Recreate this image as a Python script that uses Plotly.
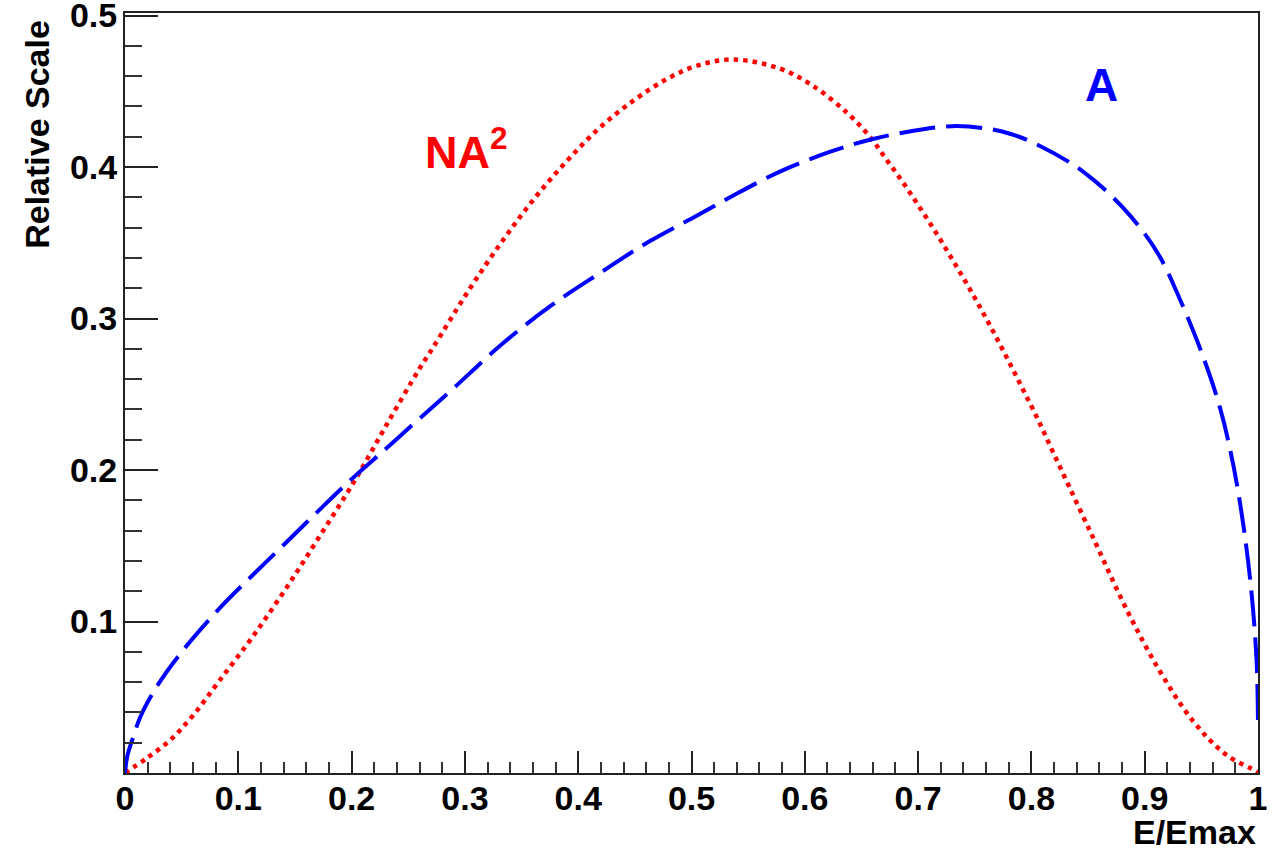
import plotly.graph_objects as go

# NA^2 curve (red, dotted)
na2_x = [0, 0.019, 0.040, 0.060, 0.0838, 0.1132, 0.1427, 0.172, 0.2015, 0.231, 0.260,
         0.272, 0.302, 0.331, 0.360, 0.390, 0.419, 0.449, 0.478, 0.505, 0.537, 0.578,
         0.6075, 0.637, 0.6575, 0.672, 0.687, 0.7017, 0.7164, 0.731, 0.746, 0.7605,
         0.775, 0.790, 0.8047, 0.819, 0.834, 0.849, 0.855, 0.884, 0.9135, 0.943, 0.972,
         0.9988, 1.0]
na2_y = [0, 0.0097, 0.0218, 0.038, 0.0614, 0.0905, 0.1225, 0.1565, 0.1915, 0.230, 0.267,
         0.281, 0.317, 0.349, 0.378, 0.404, 0.426, 0.444, 0.458, 0.467, 0.471, 0.465,
         0.4535, 0.436, 0.420, 0.405, 0.3895, 0.373, 0.356, 0.338, 0.319, 0.2995,
         0.279, 0.257, 0.235, 0.212, 0.188, 0.164, 0.1545, 0.108, 0.067, 0.034, 0.012,
         0.001, 0]

# A curve (blue, dashed)
a_x = [0, 0.002, 0.0074, 0.0135, 0.028, 0.048, 0.0838, 0.1132, 0.1427, 0.172, 0.2015,
       0.231, 0.260, 0.290, 0.331, 0.375, 0.419, 0.463, 0.505, 0.534, 0.578, 0.622,
       0.6575, 0.696, 0.730, 0.760, 0.781, 0.799, 0.834, 0.849, 0.8635, 0.881, 0.899,
       0.914, 0.928, 0.949, 0.9665, 0.978, 0.987, 0.9944, 0.9988, 1.0]
a_y = [0, 0.011, 0.024, 0.037, 0.057, 0.078, 0.109, 0.131, 0.1525, 0.174, 0.195,
       0.2145, 0.234, 0.254, 0.282, 0.308, 0.330, 0.351, 0.368, 0.380, 0.397, 0.410,
       0.418, 0.424, 0.427, 0.4255, 0.422, 0.417, 0.403, 0.395, 0.386, 0.373, 0.357,
       0.340, 0.318, 0.280, 0.241, 0.204, 0.164, 0.118, 0.073, 0.031]

y_tickvals = [0.1, 0.2, 0.3, 0.4, 0.5]
y_ticktext = ["0.1", "0.2", "0.3", "0.4", "0.5"]

FONT = "Liberation Sans, Arial, Helvetica, sans-serif"

fig = go.Figure()
fig.add_trace(go.Scatter(x=na2_x, y=na2_y, mode="lines", line_shape="spline",
                         line=dict(color="#FF0000", width=4.5, dash="4.5px,5px"),
                         showlegend=False, hoverinfo="skip"))
fig.add_trace(go.Scatter(x=a_x, y=a_y, mode="lines", line_shape="spline",
                         line=dict(color="#0000FF", width=4, dash="36px,11px"),
                         showlegend=False, hoverinfo="skip"))

fig.update_layout(
    width=1281, height=852,
    margin=dict(l=125, r=23, t=13, b=79),
    paper_bgcolor="white", plot_bgcolor="white",
    font=dict(family=FONT, color="black"),
    xaxis=dict(range=[0, 1], showgrid=False, zeroline=False, automargin=False,
               showline=True, linecolor="#222", linewidth=2, mirror=True,
               ticks="inside", ticklen=22, tickwidth=2, tickcolor="#222",
               tick0=0, dtick=0.1,
               tickfont=dict(family=FONT, size=34, weight="bold", color="black"),
               ticklabelstandoff=-6, ticklabeloverflow="allow",
               minor=dict(ticks="inside", ticklen=11, tickwidth=2, tickcolor="#333",
                          tick0=0, dtick=0.02, showgrid=False)),
    yaxis=dict(range=[0, 0.5017], showgrid=False, zeroline=False, automargin=False,
               showline=True, linecolor="#222", linewidth=2, mirror=True,
               ticks="inside", ticklen=33, tickwidth=2, tickcolor="#222",
               tickmode="array", tickvals=y_tickvals, ticktext=y_ticktext,
               tickfont=dict(family=FONT, size=34, weight="bold", color="black"),
               ticklabelstandoff=-1, ticklabeloverflow="allow",
               minor=dict(ticks="inside", ticklen=17, tickwidth=2, tickcolor="#333",
                          tickmode="linear", tick0=0, dtick=0.02, showgrid=False)),
    annotations=[
        dict(text="NA<sup>2</sup>", x=0.263, y=0.412, xref="x", yref="y",
             xanchor="left", yanchor="middle", showarrow=False,
             font=dict(family=FONT, size=45, weight="bold", color="#FF0000")),
        dict(text="A", x=0.862, y=0.4545, xref="x", yref="y",
             xanchor="center", yanchor="middle", showarrow=False,
             font=dict(family=FONT, size=46, weight="bold", color="#0000FF")),
        dict(text="E/Emax", x=1, y=-0.05, xref="paper", yref="paper",
             xanchor="right", yanchor="top", showarrow=False,
             font=dict(family=FONT, size=34, weight="bold", color="black")),
        dict(text="Relative Scale", x=(37 - 125) / 1133, y=0.993, xref="paper", yref="paper",
             xanchor="center", yanchor="top", showarrow=False, textangle=-90,
             font=dict(family=FONT, size=34, weight="bold", color="black")),
    ],
)

fig.write_html("out.html")
